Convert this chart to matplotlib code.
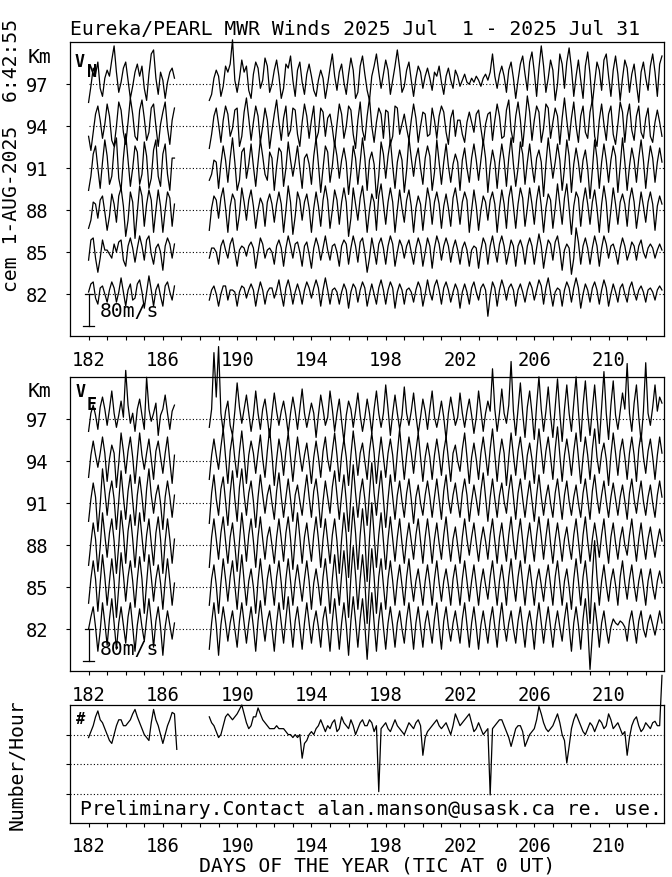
import numpy as np
import matplotlib
matplotlib.use("Agg")
import matplotlib.pyplot as plt

# ---------------- data ----------------
HEIGHTS = [82, 85, 88, 91, 94, 97]          # km
XTICK_LABELS = [182, 186, 190, 194, 198, 202, 206, 210]
DAYS = list(range(182, 213))
SEG1_START = 182.0      # first block of data
SEG2_START = 188.5      # second block, after the data gap
STEP = 0.125            # days (3-hourly values)
SCALE_BAR = 80          # m/s

# V_N (m/s): block A starts day 182.0, block B starts day 188.5
VN82_A = [5, 25, 30, -10, -25, 15, 20, 0, -20, 10, 30, 15, -20, 5, 40, 5,
          -30, 10, 25, -15, -10, 25, 35, 5, -35, 5, 45, 10, -30, 10, 25, -5,
          -30, 20, 30, 5, -15, 20]
VN82_B = [-15, 10, 20, 0,
          -30, 0, 20, 20, -15, 10, 10, 5, -30, 5, 20, 15, -10, 10, 25, 10,
          -30, 5, 30, 10, -25, 5, 15, 15, -10, 10, 35, 0, -30, 15, 35, 10,
          -25, 5, 25, 5, -25, 10, 30, 15, -10, 15, 35, 15, -30, 10, 40, 10,
          -25, 10, 15, 5, -25, 5, 25, 10, -35, 5, 25, 15, -20, 10, 30, 15,
          -30, 0, 25, 0, -25, 15, 35, 10, -25, 10, 30, 15, -35, 5, 25, 10,
          -25, 10, 15, 5, -20, 10, 30, 15, -30, 0, 35, 5, -15, 20, 35, 10,
          -25, 15, 30, 10, -20, 5, 25, 10, -35, 5, 25, 5, -25, 15, 30, 5,
          -15, 15, 25, 10, -55, -5, 30, 15, -30, 10, 35, 15, -15, 15, 25, 10,
          -30, 10, 25, 5, -20, 10, 30, 15, -15, 10, 35, 20, -25, 15, 40, 5,
          -30, 5, 15, 10, -30, 10, 30, 15, -20, 15, 40, 15, -35, 0, 25, 10,
          -20, 15, 30, 10, -25, 10, 35, 15, -30, 0, 25, 5, -20, 15, 25, 0,
          -20, 15, 30, 5, -15, 10, 20, 5, -20, 10, 15, 5, -15, 10, 20, 10]
VN85_A = [-20, 30, 35, -15, -50, -15, 30, 5, 5, -5, -15, 20, 0, 25, 30, -20,
          -35, 15, 35, 10, -25, 10, 40, 15, -20, 30, 40, -5, -30, 10, 20, 0,
          -45, 15, 35, 20, -15, 20]
VN85_B = [-15, 10, 10, 0,
          -30, 15, 30, 5, -15, 20, 35, 0, -35, 5, 15, 10, -10, 15, 25, 10,
          -40, 0, 35, 20, -15, 5, 10, 0, -30, 15, 30, 10, -35, 10, 40, 15,
          -15, 20, 25, 0, -35, 15, 25, -5, -40, 10, 35, 15, -20, 10, 40, 5,
          -20, 15, 20, 0, -35, 15, 30, 20, -30, 10, 40, 15, -25, 25, 35, 0,
          -50, -15, 35, 5, -30, 20, 35, 10, -30, 15, 40, 20, -35, 0, 30, 15,
          -15, 15, 30, 0, -30, 10, 35, 15, -35, 0, 35, 15, -40, 10, 40, 20,
          -20, 15, 35, 15, -25, 10, 30, 5, -30, 10, 25, 5, -35, 5, 15, 10,
          -40, 5, 35, 20, -30, 15, 40, 5, -25, 20, 40, 15, -30, 0, 30, 15,
          -35, 15, 30, 10, -30, 15, 35, 15, -30, 10, 45, 15, -40, 0, 30, 20,
          -20, 25, 40, 5, -45, 5, 20, 10, -55, -15, 60, 25, -30, 15, 35, 10,
          -30, 10, 40, 15, -35, 10, 40, 20, -15, 15, 20, 0, -30, 10, 35, 15,
          -20, 0, 25, 15, -20, 15, 30, 0, -15, 10, 20, 10, -15, 5, 20, 5]
VN88_A = [-45, -25, 20, 15, -20, 25, 35, -5, -50, -15, 40, 15, -30, 35, 55, 10,
          -65, -25, 45, 20, -70, -5, 60, 35, -40, 15, 50, 25, -55, 0, 50, 10,
          -55, 0, 45, 30, -40, 15]
VN88_B = [-50, 5, 35, 25,
          -20, 30, 55, 5, -55, 10, 40, 25, -50, -10, 55, 20, -25, 25, 50, 10,
          -45, 0, 30, 15, -40, 20, 40, 15, -30, 15, 45, 15, -55, 0, 60, 20,
          -60, -15, 45, 25, -25, 20, 40, 5, -55, 5, 45, 10, -40, 25, 60, 25,
          -45, 0, 50, 25, -35, 20, 55, 20, -65, -20, 55, 15, -25, 30, 60, 10,
          -55, 0, 40, 20, -50, 35, 65, 15, -35, 20, 55, 20, -55, 0, 50, 5,
          -30, 25, 50, 10, -55, 5, 35, 15, -50, 5, 55, 25, -35, 20, 45, 15,
          -45, 10, 40, 5, -40, 30, 55, 15, -35, 20, 45, 25, -55, 0, 50, 10,
          -50, 0, 35, 20, -25, 25, 45, 15, -55, 5, 50, 15, -45, 30, 60, 10,
          -45, 15, 55, 30, -40, 5, 55, 15, -35, 25, 60, 10, -55, 5, 40, 25,
          -45, 5, 65, 15, -35, 30, 65, 5, -60, 10, 45, 30, -40, 20, 55, 15,
          -35, 20, 50, 5, -55, 15, 60, 20, -55, 0, 55, 15, -35, 20, 40, 15,
          -40, 25, 55, 20, -45, 0, 45, 10, -30, 20, 45, 15, -50, 10, 35, 15]
VN91_A = [-55, -20, 35, 55, 0, -50, 15, 70, 30, -40, -20, 50, 75, -25, -55, 25,
          85, 20, -45, 0, 55, 40, -40, -15, 65, 30, -50, -25, 45, 70, -20, -45,
          35, 60, -15, -55, 25, 25]
VN91_B = [-30, -15, 20, 15,
          -50, 10, 55, 20, -35, 25, 75, 15, -55, -30, 40, 50, -25, 10, 60, 5,
          -45, 15, 70, 30, -15, -30, 40, 25, -55, 5, 50, 40, -45, 0, 65, 20,
          -20, 15, 55, 0, -50, 25, 35, 10, -40, 30, 75, 10, -60, 0, 55, 40,
          -35, 5, 65, 30, -25, 20, 50, 15, -65, -10, 55, 25, -40, 15, 75, 25,
          -55, 20, 40, 10, -75, -20, 65, 35, -25, 30, 70, 5, -50, 15, 45, 20,
          -60, -5, 75, 25, -20, 25, 50, 0, -40, 25, 55, 30, -55, -10, 70, 15,
          -40, 15, 60, 5, -35, 10, 35, 15, -55, 20, 50, 0, -35, 25, 60, 20,
          -30, 20, 70, 25, -60, 5, 45, 15, -50, 15, 60, 20, -45, 25, 75, 10,
          -45, 0, 65, 35, -40, 15, 60, 5, -35, 25, 45, 15, -70, 10, 75, 25,
          -25, 15, 60, 20, -55, 0, 70, 30, -60, 10, 50, 15, -35, 20, 45, 0,
          -75, -5, 70, 25, -50, 15, 60, 20, -35, 20, 55, 30, -60, 5, 75, 15,
          -55, 5, 50, 20, -35, 25, 70, 20, -50, 10, 55, 25, -35, 15, 50, 15]
VN94_A = [-25, -60, -15, 30, 50, 15, -30, 5, 55, 25, -35, -50, 0, 60, 40, -15,
          -45, 10, 70, 30, -25, -35, 40, 65, 20, -35, -15, 45, 55, 0, -50, 5,
          35, 60, -5, -45, 15, 45]
VN94_B = [-55, -20, 25, 45,
          5, -40, 15, 50, 30, -25, -5, 40, 45, -50, -25, 35, 70, 20, -35, 10,
          50, 25, -40, 0, 45, 15, -55, -10, 30, 65, 10, -35, 20, 50, -25, -10,
          45, 40, -20, -50, 10, 55, 25, -30, 15, 50, -35, -15, 45, 35, -25, 20,
          30, -5, -50, 5, 55, 30, -30, 0, 50, 40, -20, -55, 15, 60, -10, -35,
          25, 70, 0, -40, 10, 45, 30, -30, 40, 35, -45, -25, 50, 45, -20, 5,
          30, -5, -35, 15, 55, 20, -40, 0, 35, 30, -25, -20, 45, 15, -30, 25,
          50, 35, -15, -45, 20, 40, -25, 15, 15, -20, -40, 10, 35, 10, -15, 30,
          40, -5, -45, 5, 30, 35, -35, 15, 55, 25, -30, -25, 40, 65, -10, -40,
          25, 60, 15, -50, 10, 75, 35, -35, 15, 50, 35, -40, -5, 55, 45, -30,
          10, 45, 25, -45, 20, 70, 15, -35, 20, 60, 0, -40, 25, 50, -15, -30,
          35, 65, -25, -50, 15, 55, 5, -35, 30, 50, -20, -45, 5, 60, 35, -40,
          25, 55, -10, -35, 25, 50, -15, -30, 20, 45, -25, -40, 10, 40, 10, -25]
VN97_A = [-45, -5, 40, 25, 55, -10, -30, 15, 35, 20, 60, 95, 30, -20, 5, 40,
          55, 10, -35, -5, 30, 50, 20, 45, -10, -40, 25, 75, 85, 15, -25, 30,
          10, -35, 5, 30, 40, 15]
VN97_B = [-40, -25, 15, 35,
          20, -30, -5, 45, 30, 50, 110, 10, -20, 15, 60, 30, 45, -15, -35, 25,
          55, 40, -10, 10, 65, 45, -20, 0, 35, 60, 20, -35, -10, 50, 40, 70,
          10, -30, 35, 55, 5, -25, 25, 50, 20, -15, -30, 10, 35, 15, -35, 0,
          40, 75, 20, -15, 30, 50, 5, -25, 25, 65, 35, -35, -20, 45, 70, 25,
          -15, -40, 20, 45, 75, 30, -10, 25, 60, 35, -25, 10, 45, 85, 40, -20,
          -5, 35, 55, 10, -30, 15, 45, 30, -10, 20, 40, 15, -15, 30, 20, 45,
          5, -25, 20, 40, 10, -10, 35, 20, -5, 10, 25, 5, 0, 15, 5, 20,
          10, -5, 15, 25, 10, 30, 75, 20, -10, 25, 45, 20, -20, 35, 55, 15,
          -35, 10, 50, 70, 25, -15, 55, 80, 30, -30, 40, 95, 45, -20, 15, 60,
          35, -40, 0, 75, 50, -10, 55, 90, 40, -30, 20, 60, 10, -35, 45, 80,
          25, -50, 5, 55, 35, -15, 60, 75, 20, -30, 35, 70, 25, -40, 15, 60,
          40, -20, 25, 50, 0, -45, 30, 55, 15, -15, 45, 75, 30, -30, 50, 70]

# V_E (m/s)
VE82_A = [0, 30, 55, 5, -55, -5, 65, 15, -40, 25, 75, 15, -50, 15, 55, 10,
          -35, 30, 65, 5, -55, 10, 50, 5, -30, 25, 75, 20, -45, 20, 55, 5,
          -65, 5, 45, 10, -25, 15]
VE82_B = [-50, 15, 65, 10,
          -65, 10, 55, 15, -30, 15, 45, 0, -45, 20, 65, 15, -35, 15, 55, 5,
          -55, 20, 70, 15, -30, 20, 45, 0, -55, 15, 65, 15, -35, 25, 80, 15,
          -45, 20, 55, 5, -50, 15, 65, 15, -35, 15, 45, 5, -45, 25, 55, 5,
          -55, 20, 75, 15, -50, 15, 65, 10, -65, 20, 80, 20, -45, 25, 75, 10,
          -75, 15, 90, 15, -55, 20, 65, 5, -50, 15, 55, 10, -45, 15, 45, 0,
          -35, 25, 65, 10, -50, 15, 55, 5, -45, 15, 45, 5, -35, 25, 65, 5,
          -50, 20, 55, 5, -30, 15, 45, 5, -35, 25, 65, 10, -45, 15, 55, 5,
          -50, 10, 45, 5, -35, 20, 55, 5, -45, 20, 65, 10, -30, 15, 45, 0,
          -35, 20, 55, 5, -45, 15, 45, 5, -50, 20, 65, 15, -35, 15, 55, 5,
          -45, 10, 45, 5, -30, 25, 65, 5, -55, 15, 55, 10, -50, 25, 75, 10,
          -100, -15, 65, 15, -45, 15, 45, 0, -35, 5, 25, 15, 10, 20, 15, 5,
          -30, 20, 45, 5, -35, 20, 45, 0, -20, 15, 35, 10, -15, 15, 45, 15]
VE85_A = [-40, 20, 65, 20, -60, 10, 80, 25, -45, 15, 70, 15, -75, 0, 85, 30,
          -35, 25, 65, 15, -50, 20, 75, 20, -65, 10, 80, 25, -35, 20, 55, 10,
          -55, 15, 70, 15, -45, 10]
VE85_B = [-45, 20, 55, 5,
          -65, 10, 70, 20, -35, 25, 65, 5, -55, 20, 80, 15, -45, 15, 45, 0,
          -65, 15, 70, 15, -45, 20, 55, 5, -45, 25, 65, 10, -55, 20, 70, 15,
          -45, 15, 55, 10, -35, 20, 65, 15, -55, 10, 45, 5, -45, 25, 70, 10,
          -65, 20, 80, 15, -45, 30, 90, 25, -75, 25, 100, 30, -55, 20, 80, 15,
          -90, 10, 95, 25, -65, 25, 70, 5, -55, 20, 65, 15, -45, 15, 55, 5,
          -45, 25, 70, 10, -35, 15, 45, 0, -45, 15, 55, 10, -45, 20, 65, 10,
          -35, 15, 45, 5, -45, 20, 55, 5, -45, 20, 65, 15, -35, 15, 55, 5,
          -45, 10, 45, 5, -30, 25, 65, 10, -45, 15, 55, 10, -45, 25, 70, 10,
          -35, 25, 65, 10, -45, 15, 55, 5, -45, 15, 45, 5, -35, 20, 55, 5,
          -45, 25, 65, 10, -45, 15, 45, 0, -55, 20, 70, 15, -45, 25, 65, 5,
          -90, 25, 115, 25, -45, 15, 55, 5, -35, 15, 45, 5, -45, 25, 65, 10,
          -30, 20, 55, 5, -35, 15, 45, 0, -45, 15, 45, 0, -30, 15, 40, 10]
VE88_A = [-50, 5, 55, 15, -65, -5, 80, 25, -30, 30, 65, 10, -70, 0, 85, 30,
          -45, 35, 75, 15, -55, 20, 80, 20, -40, 25, 65, 5, -50, 30, 70, 15,
          -70, 10, 65, 15, -45, 15]
VE88_B = [-55, 20, 65, 15,
          -35, 30, 70, 10, -45, 20, 55, 0, -65, 10, 80, 25, -40, 25, 65, 10,
          -55, 20, 70, 15, -35, 20, 45, 0, -45, 20, 65, 15, -40, 30, 70, 15,
          -60, 15, 80, 20, -45, 20, 55, 5, -40, 25, 70, 15, -55, 15, 65, 10,
          -45, 25, 65, 10, -70, 15, 80, 25, -80, 20, 95, 30, -60, 25, 90, 20,
          -90, 15, 105, 25, -55, 25, 80, 10, -60, 15, 70, 15, -40, 20, 65, 5,
          -45, 15, 55, 10, -35, 25, 65, 10, -45, 20, 65, 15, -45, 15, 55, 5,
          -35, 25, 70, 10, -40, 15, 45, 0, -45, 20, 65, 15, -25, 20, 55, 5,
          -40, 10, 45, 10, -35, 25, 65, 10, -45, 20, 55, 5, -40, 25, 70, 10,
          -35, 25, 65, 10, -45, 15, 55, 5, -40, 25, 70, 20, -35, 20, 65, 5,
          -45, 15, 55, 10, -40, 15, 45, 0, -35, 25, 65, 10, -45, 25, 70, 10,
          -40, 15, 55, 15, -30, 25, 65, 5, -45, 20, 55, 5, -35, 15, 45, 0,
          -25, 25, 65, 10, -40, 15, 55, 5, -35, 15, 45, 5, -30, 10, 40, 10]
VE91_A = [-45, 10, 50, 15, -70, -5, 85, 30, -30, 25, 55, 10, -65, 5, 80, 15,
          -40, 30, 70, 5, -55, 20, 65, 15, -45, 35, 85, 20, -25, 20, 45, 0,
          -65, 15, 55, 15, -35, 20]
VE91_B = [-50, 25, 70, 10,
          -30, 35, 65, 5, -55, 25, 80, 10, -45, 40, 85, 20, -30, 25, 55, 5,
          -60, 15, 70, 20, -25, 20, 45, 0, -40, 30, 75, 15, -35, 15, 60, 10,
          -45, 20, 45, 5, -30, 25, 70, 15, -35, 30, 60, 10, -60, 5, 55, 15,
          -25, 40, 80, 20, -40, 20, 70, 5, -70, 15, 95, 25, -35, 25, 60, 10,
          -55, 25, 100, 25, -30, 30, 80, 10, -60, 10, 70, 15, -40, 20, 55, 5,
          -35, 25, 60, 10, -50, 15, 45, 0, -30, 20, 55, 15, -35, 15, 60, 10,
          -40, 30, 70, 10, -25, 20, 50, 5, -35, 25, 60, 20, -45, 5, 45, 10,
          -30, 30, 75, 15, -45, 15, 60, 10, -35, 20, 50, 5, -25, 30, 70, 15,
          -40, 25, 60, 10, -35, 15, 55, 5, -45, 20, 70, 15, -30, 15, 45, 0,
          -35, 25, 60, 10, -40, 20, 55, 5, -30, 15, 45, 0, -35, 25, 60, 10,
          -40, 30, 70, 15, -25, 20, 55, 5, -35, 15, 50, 10, -30, 15, 45, 5,
          -40, 25, 60, 10, -25, 20, 55, 5, -30, 15, 45, 0, -35, 20, 55, 15]
VE94_A = [-40, 15, 50, 15, -15, 20, 60, 20, -50, 5, 40, 20, -65, -5, 70, 25,
          -30, 25, 60, 10, -55, 10, 70, 15, -20, 20, 55, 5, -45, 25, 50, 10,
          -30, 20, 60, 0, -55, 15]
VE94_B = [-45, 15, 55, 15,
          -20, 35, 80, 10, -55, 25, 65, 5, -40, 25, 75, 15, -55, 15, 50, 20,
          -30, 20, 65, 5, -40, 25, 80, 15, -60, 5, 55, 20, -35, 25, 70, 10,
          -50, 10, 60, 15, -25, 15, 45, 0, -55, 10, 50, 10, -40, 25, 60, 5,
          -25, 25, 70, 15, -50, 15, 55, 10, -60, 15, 75, 25, -35, 20, 45, 0,
          -45, 25, 70, 20, -55, 10, 60, 10, -40, 20, 55, 15, -50, 20, 80, 15,
          -45, 15, 60, 20, -30, 25, 70, 10, -50, 10, 45, 10, -45, 15, 55, 15,
          -35, 25, 60, 5, -50, 20, 40, 0, -25, 30, 70, 10, -55, 10, 45, 5,
          -45, 20, 60, 15, -35, 30, 80, 15, -50, 15, 55, 20, -60, 10, 70, 15,
          -35, 25, 60, 10, -45, 15, 45, 5, -55, 20, 80, 25, -30, 25, 60, 10,
          -45, 30, 85, 15, -50, 15, 55, 15, -35, 25, 70, 10, -55, 10, 60, 15,
          -45, 30, 80, 10, -30, 20, 45, 5, -60, 15, 70, 20, -35, 25, 55, 10,
          -45, 20, 60, 15, -50, 30, 70, 10, -30, 25, 55, 10, -45, 15, 60, 20]
VE97_A = [-30, 15, 35, 10, -25, 30, 55, 25, -15, 25, 70, 15, -20, 10, 45, 5,
          121, 35, -10, 15, -30, 25, 50, 10, -25, 104, 25, -5, 15, 40, -40, 10,
          25, 60, 15, -25, 20, 35]
VE97_B = [-20, 25, 165, 55,
          180, 15, -30, 20, 45, -15, -40, 20, 90, 30, -10, 25, 60, 15, -30, 10,
          70, 15, -25, 25, 50, 5, -45, 15, 65, 20, -15, 20, 45, 10, -35, 15,
          55, 20, -25, 25, 75, 15, -20, 10, 40, 15, -45, 10, 60, 25, -15, 5,
          70, 25, -30, 15, 50, -5, -55, 10, 45, 25, -20, 20, 65, 10, -30, 5,
          50, 15, -35, 25, 70, 15, -20, 15, 85, 25, -40, 15, 60, 15, -25, 10,
          80, 15, -15, 20, 65, 10, -35, 5, 50, 20, -25, 25, 70, 5, -20, 10,
          45, 5, -50, 15, 55, 20, -15, 5, 65, 15, -20, 20, 50, 10, -35, 5,
          70, 20, -30, 15, 45, 20, 125, 25, -30, 15, 75, 15, -10, 35, 143, 20,
          -40, 25, 90, 15, -45, 30, 70, 15, -50, 35, 105, 25, -30, 20, 80, 10,
          -45, 30, 100, 15, -55, 25, 85, 15, -30, 40, 105, 20, -55, 35, 95, 15,
          -40, 25, 85, 10, -60, 30, 118, 15, -50, 35, 95, 10, -25, 20, 65, 25,
          138, 15, -30, 40, 85, 5, -55, 20, 140, 15, -15, 30, 85, 20, 55, 40]

# meteor count rate (panel units; dotted lines at 1, 2, 3)
NUM_A = [2.9, 3.1, 3.3, 3.6, 3.8, 3.5, 3.4, 3.2, 3.0, 2.8, 2.7, 3.0, 3.3, 3.5, 3.5, 3.3,
         3.3, 3.4, 3.5, 3.7, 3.85, 3.6, 3.4, 3.2, 3.0, 2.9, 2.8, 3.4, 3.85, 3.5, 3.3, 3.0,
         2.7, 3.0, 3.3, 3.5, 3.75, 3.7, 2.5]
NUM_B = [3.6, 3.4, 3.3, 3.1,
         2.9, 3.0, 3.3, 3.6, 3.7, 3.6, 3.5, 3.6, 3.7, 3.85, 4.0, 3.7, 3.4, 3.2, 3.3, 3.6,
         3.6, 3.9, 3.7, 3.5, 3.4, 3.3, 3.2, 3.2, 3.2, 3.3, 3.2, 3.2, 3.2, 3.1, 3.0, 3.0,
         2.9, 3.0, 2.9, 3.0, 2.2, 2.7, 2.8, 3.0, 3.1, 3.0, 3.2, 3.3, 3.5, 3.3, 3.1, 3.3,
         3.2, 3.4, 3.5, 3.1, 3.2, 3.6, 3.4, 3.3, 3.2, 3.5, 3.3, 3.0, 3.2, 3.4, 3.5, 3.3,
         3.3, 3.5, 3.4, 3.1, 3.3, 1.07, 3.2, 3.3, 3.4, 3.2, 3.1, 3.3, 3.5, 3.3, 3.2, 3.1,
         3.0, 3.2, 3.4, 3.3, 3.2, 3.4, 3.5, 3.3, 2.3, 2.9, 3.1, 3.2, 3.3, 3.4, 3.5, 3.3,
         3.2, 3.3, 3.4, 3.2, 3.0, 3.3, 3.7, 3.5, 3.3, 3.4, 3.5, 3.6, 3.7, 3.4, 3.1, 3.2,
         3.4, 3.2, 3.0, 3.1, 3.2, 0.96, 3.2, 3.3, 3.4, 3.5, 3.5, 3.3, 3.1, 2.9, 2.6, 2.9,
         3.2, 3.3, 3.3, 3.1, 2.6, 2.8, 3.0, 3.1, 3.2, 3.5, 3.95, 3.7, 3.4, 3.2, 3.1, 3.2,
         3.3, 3.5, 3.7, 3.4, 3.0, 2.8, 2.04, 2.6, 3.2, 3.5, 3.7, 3.5, 3.3, 3.1, 3.0, 3.2,
         3.4, 3.3, 3.1, 3.3, 3.5, 3.4, 3.2, 3.3, 3.7, 3.5, 3.2, 3.3, 3.4, 3.2, 3.0, 3.1,
         2.3, 2.9, 3.3, 3.5, 3.6, 3.3, 3.1, 3.2, 3.4, 3.3, 3.2, 3.4, 3.45, 3.3, 3.3, 5.0]

VN = [(VN82_A, VN82_B), (VN85_A, VN85_B), (VN88_A, VN88_B),
      (VN91_A, VN91_B), (VN94_A, VN94_B), (VN97_A, VN97_B)]
VE = [(VE82_A, VE82_B), (VE85_A, VE85_B), (VE88_A, VE88_B),
      (VE91_A, VE91_B), (VE94_A, VE94_B), (VE97_A, VE97_B)]

# ---------------- layout ----------------
W, H = 672, 877
FONT = "DejaVu Sans Mono"
plt.rcParams["font.family"] = [FONT, "DejaVu Sans"]
FS = 14.25
TFS = 13.5
LW = 0.9
KM_PER_MS = 2.31 / 80.0      # wind offset scale: the 80 m/s bar spans 2.31 km of axis
DOT = (0, (1, 2))

fig = plt.figure(figsize=(W / 100, H / 100), dpi=100)


def rect(l, t, r, b):
    return [l / W, 1 - b / H, (r - l) / W, (b - t) / H]


def fx(x):
    return x / W


def fy(y):
    return 1 - y / H


ax1 = fig.add_axes(rect(70, 42.3, 664.3, 336))
ax2 = fig.add_axes(rect(70, 377.3, 664.3, 671))
ax3 = fig.add_axes(rect(70, 705, 664.3, 823.3))


def style_x(ax, pad):
    ax.set_xlim(181, 213)
    ax.set_xticks(XTICK_LABELS)
    ax.set_xticklabels([str(v) for v in XTICK_LABELS])
    ax.set_xticks(DAYS, minor=True)
    ax.tick_params(axis="x", which="both", direction="out", length=2.6, width=0.8,
                   top=False, labelsize=TFS, pad=pad)
    for s in ax.spines.values():
        s.set_linewidth(0.9)
        s.set_color("black")


for ax, data in ((ax1, VN), (ax2, VE)):
    ax.set_ylim(79, 100)
    ax.hlines(HEIGHTS, 182, 213, colors="black", linestyles=DOT, lw=0.8)
    for h, (a, b) in zip(HEIGHTS, data):
        t1 = SEG1_START + STEP * np.arange(len(a))
        t2 = SEG2_START + STEP * np.arange(len(b))
        ax.plot(t1, h + KM_PER_MS * np.array(a), color="black", lw=LW, clip_on=False)
        ax.plot(t2, h + KM_PER_MS * np.array(b), color="black", lw=LW, clip_on=False)
    # scale bar
    bar = SCALE_BAR * KM_PER_MS
    ax.plot([182, 182], [82, 82 - bar], color="black", lw=LW)
    ax.plot([181.7, 182.3], [82 - bar, 82 - bar], color="black", lw=LW)
    ax.plot([181.8, 182.2], [82, 82], color="black", lw=LW)
    ax.set_yticks(HEIGHTS)
    ax.set_yticklabels([str(h) for h in HEIGHTS])
    ax.tick_params(axis="y", direction="out", length=2.6, width=0.8, right=False,
                   labelsize=TFS, pad=13)
    style_x(ax, 8.5)

# bottom panel
ax3.set_ylim(0, 4)
ax3.hlines([1, 2, 3], 181, 213, colors="black", linestyles=DOT, lw=0.8)
ax3.plot(SEG1_START + STEP * np.arange(len(NUM_A)), NUM_A, color="black", lw=LW, clip_on=False)
ax3.plot(SEG2_START + STEP * np.arange(len(NUM_B)), NUM_B, color="black", lw=LW, clip_on=False)
ax3.set_yticks([1, 2, 3])
ax3.set_yticklabels([])
ax3.tick_params(axis="y", direction="out", length=2.6, width=0.8, right=False)
style_x(ax3, 7)

# ---------------- text ----------------
fig.text(fx(70), fy(35), "Eureka/PEARL MWR Winds 2025 Jul  1 - 2025 Jul 31",
         ha="left", va="baseline", fontsize=FS)
fig.text(fx(12), fy(155), "cem 1-AUG-2025  6:42:55", rotation=90,
         ha="center", va="center", fontsize=FS)
fig.text(fx(28), fy(63), "Km", ha="left", va="baseline", fontsize=FS)
fig.text(fx(28), fy(397), "Km", ha="left", va="baseline", fontsize=FS)
fig.text(fx(75), fy(67), "V", ha="left", va="baseline", fontsize=12, weight="bold")
fig.text(fx(87), fy(77), "N", ha="left", va="baseline", fontsize=12, weight="bold")
fig.text(fx(76), fy(397), "V", ha="left", va="baseline", fontsize=12, weight="bold")
fig.text(fx(87), fy(410), "E", ha="left", va="baseline", fontsize=12, weight="bold")
fig.text(fx(100), fy(317), f"{SCALE_BAR}m/s", ha="left", va="baseline", fontsize=FS)
fig.text(fx(100), fy(655), f"{SCALE_BAR}m/s", ha="left", va="baseline", fontsize=FS)
fig.text(fx(76), fy(724), "#", ha="left", va="baseline", fontsize=11, weight="bold")
fig.text(fx(17), fy(765), "Number/Hour", rotation=90, ha="center", va="center", fontsize=FS)
fig.text(fx(80), fy(815), "Preliminary.Contact alan.manson@usask.ca re. use.",
         ha="left", va="baseline", fontsize=FS)
fig.text(fx(377), fy(871), "DAYS OF THE YEAR (TIC AT 0 UT)", ha="center", va="baseline",
         fontsize=FS)

fig.savefig("out.png", dpi=100)
